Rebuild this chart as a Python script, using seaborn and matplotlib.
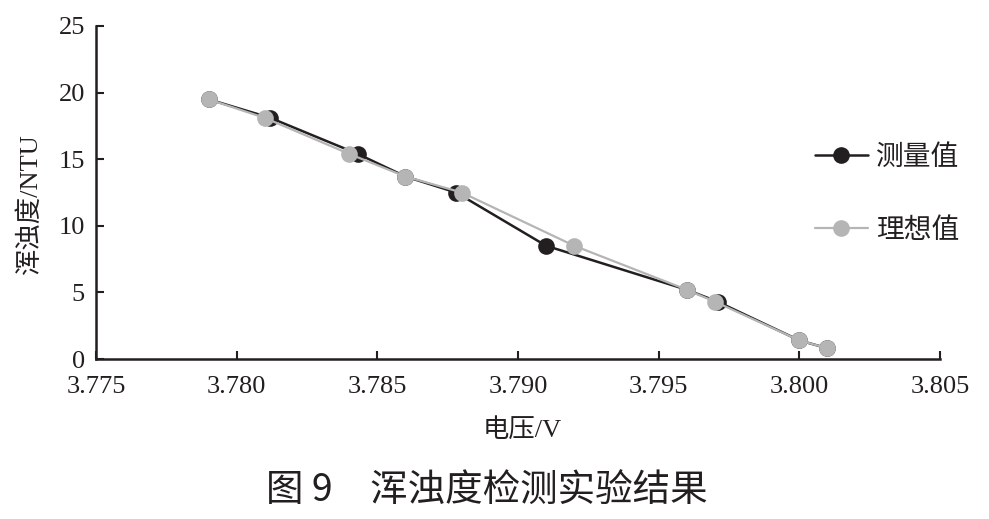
import matplotlib
matplotlib.use("Agg")
import matplotlib.pyplot as plt
import seaborn as sns
import pandas as pd

# Data
measured_voltage = [3.779, 3.7812, 3.7843, 3.786, 3.7878, 3.791, 3.796, 3.7971, 3.800, 3.801]
measured_turbidity = [19.5, 18.1, 15.4, 13.7, 12.5, 8.5, 5.2, 4.3, 1.4, 0.8]
ideal_voltage = [3.779, 3.781, 3.784, 3.786, 3.788, 3.792, 3.796, 3.797, 3.800, 3.801]
ideal_turbidity = [19.5, 18.1, 15.4, 13.7, 12.5, 8.5, 5.2, 4.3, 1.4, 0.8]
series_names = ["测量值", "理想值"]
x_ticks = [3.775, 3.780, 3.785, 3.790, 3.795, 3.800, 3.805]
y_ticks = [0, 5, 10, 15, 20, 25]
x_label = "电压/V"
y_label = "浑浊度/NTU"
caption = "图 9　浑浊度检测实验结果"

sns.set_style("ticks")
plt.rcParams["font.family"] = ["Liberation Serif", "Noto Sans CJK SC", "DejaVu Sans"]
plt.rcParams["axes.unicode_minus"] = False

fig = plt.figure(figsize=(9.89, 5.19), dpi=100)
ax = fig.add_axes([96 / 989, 1 - 359 / 519, (940 - 96) / 989, (359 - 26) / 519])

df_m = pd.DataFrame({"v": measured_voltage, "t": measured_turbidity})
df_i = pd.DataFrame({"v": ideal_voltage, "t": ideal_turbidity})

sns.lineplot(data=df_m, x="v", y="t", ax=ax, sort=False, color="#231f20",
             linewidth=1.8, marker="o", markersize=12, markeredgewidth=0,
             label=series_names[0])
sns.lineplot(data=df_i, x="v", y="t", ax=ax, sort=False, color="#b5b5b5",
             linewidth=1.6, marker="o", markersize=12, markeredgewidth=0,
             label=series_names[1])

ax.set_xlim(3.775, 3.805)
ax.set_ylim(0, 25)
ax.set_xticks(x_ticks)
ax.set_xticklabels([f"{v:.3f}" for v in x_ticks])
ax.set_yticks(y_ticks)
ax.set_yticklabels([str(v) for v in y_ticks])
ax.tick_params(axis="both", direction="in", length=6, width=1.5, labelsize=19,
               colors="#231f20", pad=8)
ax.tick_params(axis="x", pad=12)
for s in ["top", "right"]:
    ax.spines[s].set_visible(False)
for s in ["left", "bottom"]:
    ax.spines[s].set_linewidth(1.8)
    ax.spines[s].set_color("#231f20")

ax.set_xlabel("")
ax.set_ylabel("")
fig.text(522 / 989, 1 - 430 / 519, x_label, ha="center", va="center",
         fontsize=19, color="#231f20")
fig.text(30 / 989, 1 - 205 / 519, y_label, ha="center", va="center",
         rotation=90, fontsize=19, color="#231f20")

leg = ax.legend(loc="center left", bbox_to_anchor=(815 / 989, 1 - 193 / 519),
                bbox_transform=fig.transFigure, frameon=False,
                handlelength=1.9, handletextpad=0.3, labelspacing=1.55,
                borderpad=0, borderaxespad=0,
                prop={"family": ["Noto Sans CJK SC"], "size": 20})
for t in leg.get_texts():
    t.set_color("#231f20")

fig.text(487 / 989, 1 - 490 / 519, caption, ha="center", va="center",
         fontsize=27, color="#231f20", weight="medium",
         family=["Noto Sans CJK SC", "DejaVu Sans"])

fig.savefig("out.png", dpi=100, facecolor="white")
